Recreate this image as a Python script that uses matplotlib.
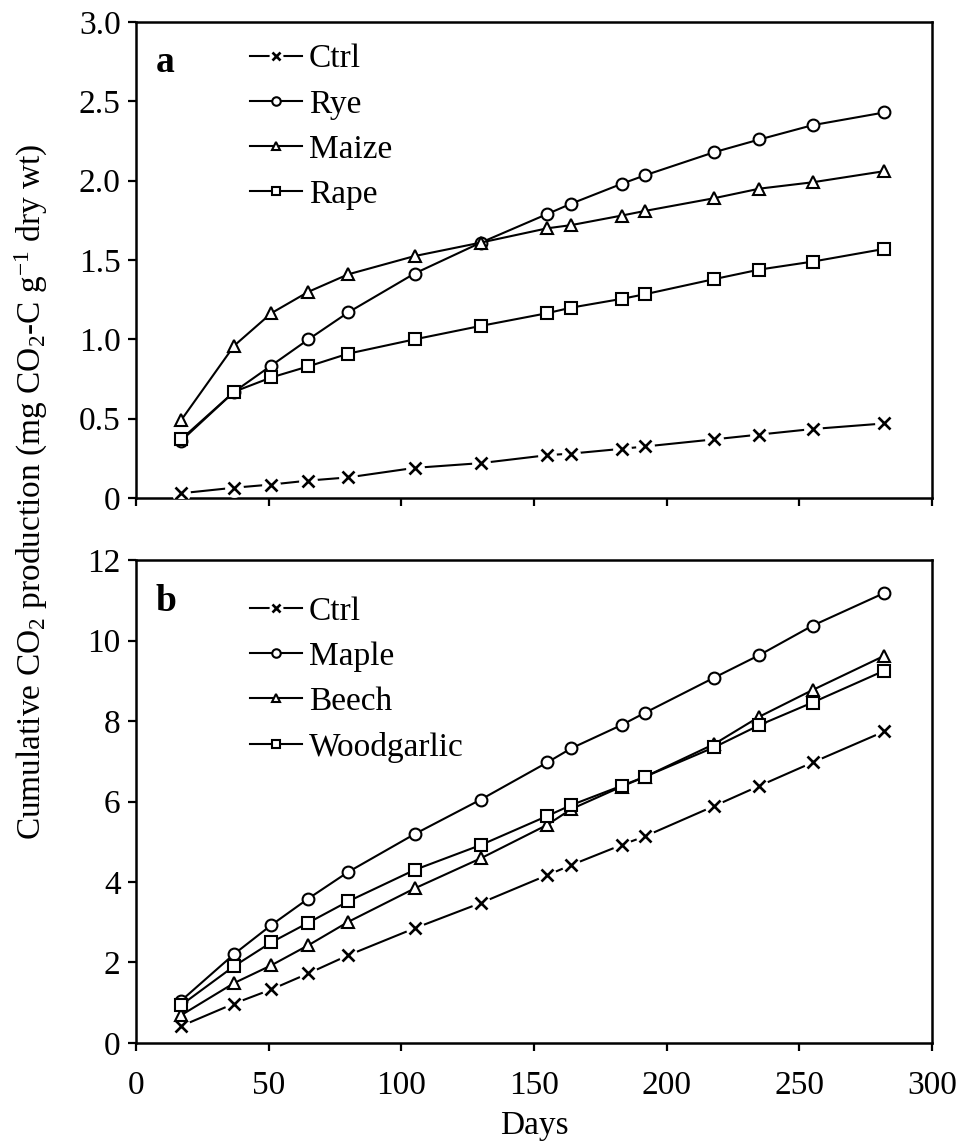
import matplotlib
matplotlib.use("Agg")
import matplotlib.pyplot as plt
from matplotlib.legend_handler import HandlerTuple

plt.rcParams['font.family'] = ['Liberation Serif', 'DejaVu Serif']
plt.rcParams['mathtext.default'] = 'regular'

days = [17, 37, 51, 65, 80, 105, 130, 155, 164, 183, 192, 218, 235, 255, 282]

# Panel a
ctrl_a = [0.03, 0.065, 0.085, 0.11, 0.13, 0.19, 0.22, 0.27, 0.28, 0.31, 0.325, 0.37, 0.40, 0.435, 0.47]
rye = [0.36, 0.67, 0.835, 1.0, 1.17, 1.415, 1.61, 1.79, 1.855, 1.98, 2.035, 2.18, 2.26, 2.35, 2.43]
maize = [0.49, 0.96, 1.165, 1.30, 1.41, 1.525, 1.61, 1.70, 1.72, 1.78, 1.81, 1.89, 1.95, 1.99, 2.06]
rape = [0.37, 0.67, 0.76, 0.83, 0.91, 1.0, 1.085, 1.165, 1.20, 1.255, 1.285, 1.38, 1.44, 1.49, 1.57]

# Panel b
ctrl_b = [0.42, 0.98, 1.33, 1.73, 2.18, 2.85, 3.48, 4.17, 4.42, 4.92, 5.14, 5.89, 6.39, 6.97, 7.74]
maple = [1.05, 2.21, 2.93, 3.59, 4.25, 5.19, 6.05, 6.97, 7.32, 7.90, 8.21, 9.08, 9.64, 10.37, 11.18]
beech = [0.69, 1.49, 1.93, 2.43, 3.01, 3.84, 4.59, 5.42, 5.81, 6.37, 6.62, 7.43, 8.11, 8.77, 9.62]
woodgarlic = [0.94, 1.91, 2.50, 2.99, 3.52, 4.30, 4.92, 5.64, 5.91, 6.39, 6.62, 7.35, 7.90, 8.46, 9.25]

labels_a = ['Ctrl', 'Rye', 'Maize', 'Rape']
labels_b = ['Ctrl', 'Maple', 'Beech', 'Woodgarlic']
yticks_a = [0, 0.5, 1.0, 1.5, 2.0, 2.5, 3.0]
yticklabels_a = ['0', '0.5', '1.0', '1.5', '2.0', '2.5', '3.0']
yticks_b = [0, 2, 4, 6, 8, 10, 12]
xticks = [0, 50, 100, 150, 200, 250, 300]

FS = 24
LW = 1.5
MS = 8.5
MEW = 1.5

fig = plt.figure(figsize=(9.59, 11.42), dpi=100)
ax_a = fig.add_axes([0.1418, 0.5639, 0.8300, 0.4168])
ax_b = fig.add_axes([0.1418, 0.0867, 0.8300, 0.4229])


def draw(ax, series, labels, letter, anchor):
    handles = []
    # ctrl with small gaps around the x markers
    c = series[0]
    l1, = ax.plot(days, c, '-', color='k', lw=LW, zorder=2)
    l2, = ax.plot(days, c, 'o', ms=MS + 4, mfc='white', mec='white', zorder=3)
    l3, = ax.plot(days, c, 'x', ms=MS - 0.5, color='k', mew=MEW + 0.4, zorder=4)
    handles.append((l1, l2, l3))
    for s, m in zip(series[1:], ['o', '^', 's']):
        h, = ax.plot(days, s, '-', marker=m, color='k', lw=LW, ms=MS,
                     mfc='white', mec='k', mew=MEW, zorder=5)
        handles.append(h)
    ax.legend(handles, labels, loc='upper left', bbox_to_anchor=anchor,
              frameon=False, fontsize=FS, handlelength=1.55, handletextpad=0.2,
              labelspacing=0.44, markerscale=0.72,
              handler_map={tuple: HandlerTuple(ndivide=1)})
    ax.text(0.025, 0.915, letter, transform=ax.transAxes, fontsize=27,
            fontweight='bold', ha='left', va='center')
    ax.set_xlim(0, 300)
    ax.set_xticks(xticks)
    for sp in ax.spines.values():
        sp.set_linewidth(1.8)
    ax.tick_params(direction='out', length=6, width=1.6, labelsize=FS)
    ax.tick_params(axis='y', pad=5)
    ax.tick_params(axis='x', pad=14)


draw(ax_a, [ctrl_a, rye, maize, rape], labels_a, 'a', (0.106, 1.017))
ax_a.set_ylim(0, 3.0)
ax_a.set_yticks(yticks_a)
ax_a.set_yticklabels(yticklabels_a)
ax_a.tick_params(axis='x', labelbottom=False)

draw(ax_b, [ctrl_b, maple, beech, woodgarlic], labels_b, 'b', (0.106, 0.987))
ax_b.set_ylim(0, 12)
ax_b.set_yticks(yticks_b)
ax_b.set_xticklabels([str(t) for t in xticks])
ax_b.set_xlabel('Days', fontsize=FS, labelpad=7)

fig.text(0.033, 0.569, 'Cumulative CO$_2$ production (mg CO$_2$-C g$^{-1}$ dry wt)',
         rotation=90, ha='center', va='center', fontsize=24)

fig.savefig('out.png', dpi=100)
